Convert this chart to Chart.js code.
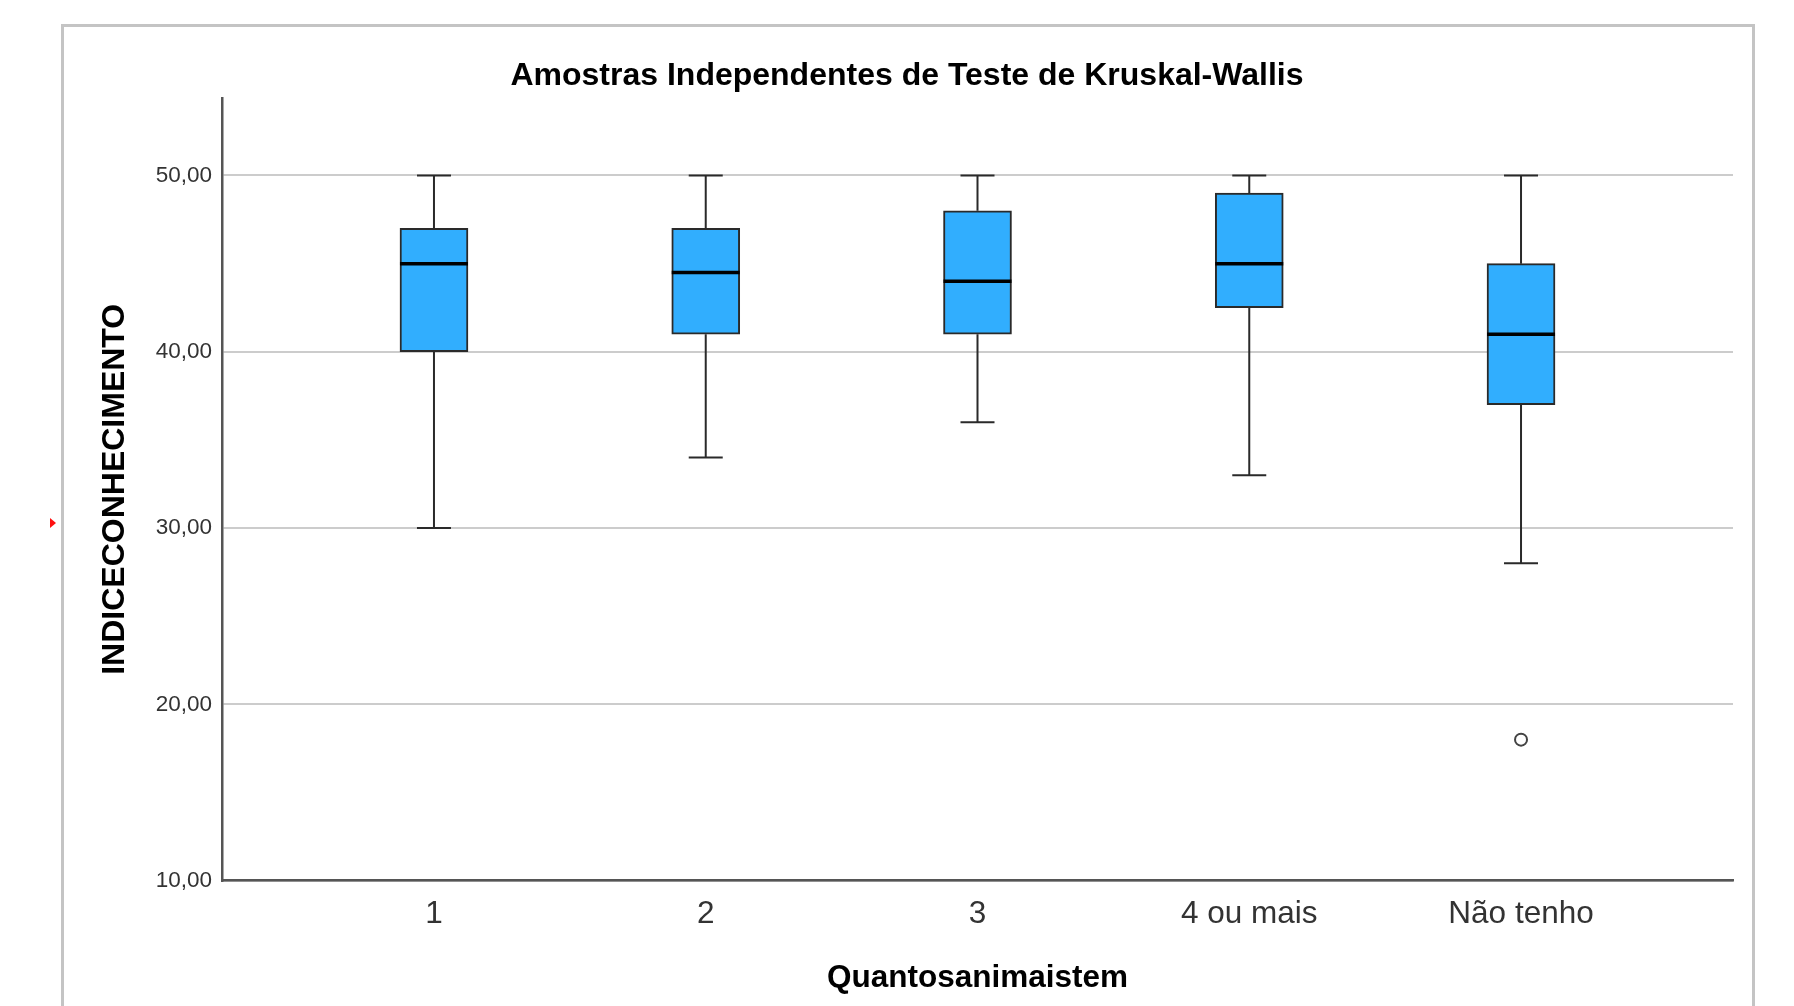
<!DOCTYPE html>
<html>
<head>
<meta charset="utf-8">
<title>Amostras Independentes de Teste de Kruskal-Wallis</title>
<script src="https://cdn.jsdelivr.net/npm/chart.js@4.4.1/dist/chart.umd.min.js"></script>
<style>
  html, body { margin: 0; padding: 0; background: #fff; overflow: hidden; }
  #wrap { position: relative; width: 1794px; height: 1006px; }
  #c { position: absolute; left: 0; top: 0; }
  #frame {
    position: absolute; left: 61px; top: 24px; width: 1688px; height: 1100px;
    border: 3px solid #c4c4c4; border-bottom: none; pointer-events: none;
  }
  #mark {
    position: absolute; left: 50px; top: 518px; width: 0; height: 0;
    border-top: 5px solid transparent; border-bottom: 5px solid transparent;
    border-left: 6px solid #ff1010;
  }
</style>
</head>
<body>
<div id="wrap">
  <canvas id="c" width="1794" height="1006"></canvas>
  <div id="frame"></div>
  <div id="mark"></div>
</div>
<script>
const categories = ['1', '2', '3', '4 ou mais', 'Não tenho'];
const whiskerLow = [30, 34, 36, 33, 28];
const q1 = [40, 41, 41, 42.5, 37];
const median = [45, 44.5, 44, 45, 41];
const q3 = [47, 47, 48, 49, 45];
const whiskerHigh = [50, 50, 50, 50, 50];
const outlierCategory = [4];
const outlierValues = [18];
const yTicks = [10, 20, 30, 40, 50];

const boxFill = '#31aefe';
const lineColor = '#2a2a2a';

const boxData = categories.map((c, i) => ({ x: i, y: [q1[i], q3[i]] }));
const outlierData = outlierCategory.map((c, i) => ({ x: c, y: outlierValues[i] }));

// whiskers under the boxes, medians on top
const boxPlotPlugin = {
    id: 'boxPlot',
    beforeDatasetsDraw(chart) {
        const ctx = chart.ctx;
        const xs = chart.scales.x, ys = chart.scales.y;
        ctx.save();
        ctx.strokeStyle = lineColor;
        ctx.lineWidth = 2;
        categories.forEach((c, i) => {
            const px = xs.getPixelForValue(i);
            const cap = 17;
            ctx.beginPath();
            ctx.moveTo(px, ys.getPixelForValue(whiskerHigh[i]));
            ctx.lineTo(px, ys.getPixelForValue(q3[i]));
            ctx.moveTo(px, ys.getPixelForValue(q1[i]));
            ctx.lineTo(px, ys.getPixelForValue(whiskerLow[i]));
            ctx.moveTo(px - cap, ys.getPixelForValue(whiskerHigh[i]));
            ctx.lineTo(px + cap, ys.getPixelForValue(whiskerHigh[i]));
            ctx.moveTo(px - cap, ys.getPixelForValue(whiskerLow[i]));
            ctx.lineTo(px + cap, ys.getPixelForValue(whiskerLow[i]));
            ctx.stroke();
        });
        ctx.restore();
    },
    afterDatasetsDraw(chart) {
        const ctx = chart.ctx;
        const xs = chart.scales.x, ys = chart.scales.y;
        const meta = chart.getDatasetMeta(0);
        ctx.save();
        ctx.strokeStyle = '#000';
        ctx.lineWidth = 3.5;
        categories.forEach((c, i) => {
            const bar = meta.data[i];
            const half = bar.width / 2;
            const px = xs.getPixelForValue(i);
            const py = ys.getPixelForValue(median[i]);
            ctx.beginPath();
            ctx.moveTo(px - half, py);
            ctx.lineTo(px + half, py);
            ctx.stroke();
        });
        ctx.restore();
    }
};

new Chart(document.getElementById('c'), {
    type: 'bar',
    data: {
        datasets: [{
            type: 'bar',
            data: boxData,
            backgroundColor: boxFill,
            borderColor: lineColor,
            borderWidth: 2,
            borderSkipped: false,
            barThickness: 68
        }, {
            type: 'scatter',
            data: outlierData,
            pointStyle: 'circle',
            pointRadius: 6,
            pointBackgroundColor: '#fff',
            pointBorderColor: '#444',
            pointBorderWidth: 2
        }]
    },
    options: {
        responsive: false,
        animation: false,
        layout: { padding: { left: 81, right: 61, top: 0, bottom: 0 } },
        plugins: {
            legend: { display: false },
            tooltip: { enabled: false },
            title: {
                display: true,
                text: 'Amostras Independentes de Teste de Kruskal-Wallis',
                color: '#000',
                font: { family: 'Liberation Sans', size: 32, weight: 'bold' },
                padding: { top: 56.5, bottom: 3 }
            }
        },
        scales: {
            x: {
                type: 'linear',
                offset: false,
                min: -0.78,
                max: 4.78,
                afterBuildTicks: (s) => { s.ticks = categories.map((c, i) => ({ value: i })); },
                afterFit: (s) => { s.height = 125.3; },
                grid: { display: false, drawTicks: false },
                border: { display: true, color: '#555', width: 2.5 },
                ticks: {
                    padding: 15,
                    color: '#333',
                    font: { family: 'Liberation Sans', size: 31.5 },
                    callback: (v) => categories[v]
                },
                title: {
                    display: true,
                    text: 'Quantosanimaistem',
                    color: '#000',
                    font: { family: 'Liberation Sans', size: 31.5, weight: 'bold' },
                    padding: { top: 0, bottom: 9 }
                }
            },
            y: {
                min: 10,
                max: 54.4,
                afterBuildTicks: (s) => { s.ticks = yTicks.map(v => ({ value: v })); },
                afterFit: (s) => { s.width = 141; },
                grid: { color: '#cccccc', lineWidth: 2, drawTicks: false },
                border: { display: true, color: '#555', width: 2.5 },
                ticks: {
                    padding: 10,
                    color: '#333',
                    font: { family: 'Liberation Sans', size: 22.5 },
                    callback: (v) => v.toFixed(2).replace('.', ',')
                },
                title: {
                    display: true,
                    text: 'INDICECONHECIMENTO',
                    color: '#000',
                    font: { family: 'Liberation Sans', size: 32, weight: 'bold' },
                    padding: { top: 15, bottom: 0 }
                }
            }
        }
    },
    plugins: [boxPlotPlugin]
});
</script>
</body>
</html>
